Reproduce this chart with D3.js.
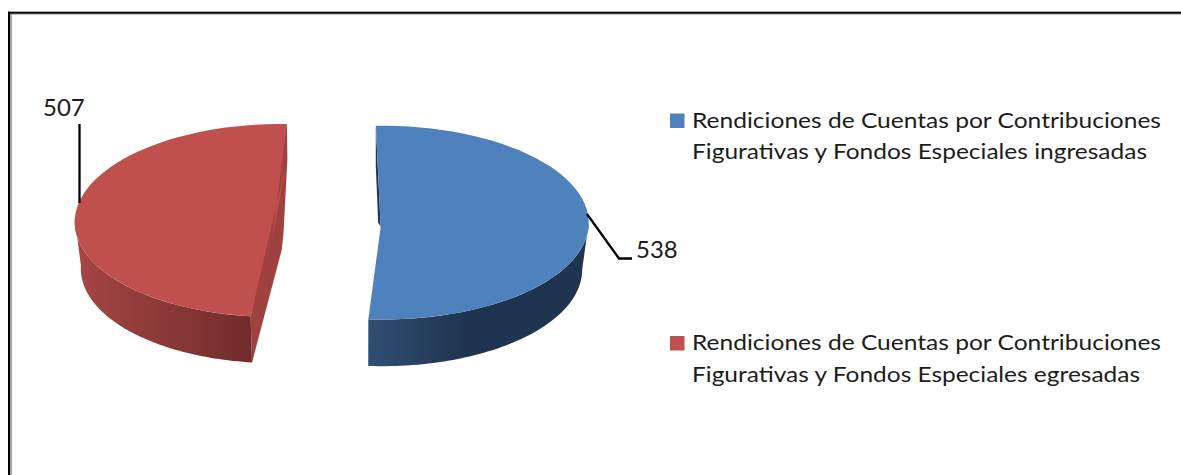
<!DOCTYPE html>
<html>
<head>
<meta charset="utf-8">
<script src="https://cdn.jsdelivr.net/npm/d3@7"></script>
<style>
html,body{margin:0;padding:0;background:#fff;overflow:hidden}
svg{display:block}
text{font-family:Lato,"Open Sans",sans-serif;fill:#1c1c1c}
</style>
</head>
<body>
<svg id="c" width="1181" height="475"></svg>
<script>
const categories = ["ingresadas", "egresadas"];
const values = [538, 507];
const labelLines = [
  ["Rendiciones de Cuentas por Contribuciones", "Figurativas y Fondos Especiales ingresadas"],
  ["Rendiciones de Cuentas por Contribuciones", "Figurativas y Fondos Especiales egresadas"]
];
const labelWidths = [[469,455],[469,448]];
const colors = ["#4F81BD", "#C0504D"];
const deg = Math.PI / 180;

const svg = d3.select("#c");
const defs = svg.append("defs");

// frame
svg.append("rect").attr("x",10).attr("y",13.5).attr("width",1171).attr("height",1.2).attr("fill","#a8a8a8");
svg.append("rect").attr("x",10.5).attr("y",13.5).attr("width",1.6).attr("height",462).attr("fill","#a8a8a8");
svg.append("rect").attr("x",8).attr("y",11.7).attr("width",1173).attr("height",2).attr("fill","#000");
svg.append("rect").attr("x",8).attr("y",11.7).attr("width",2.2).attr("height",464).attr("fill","#000");

const pie = d3.pie().sort(null).startAngle(-1.5*deg).endAngle(358.5*deg);
const arcs = pie(values);

// projected discs of the exploded 3D pie
const shapes = [
  { top:{cx:381.7,cy:222.6,a:207,b:-0.5,c:0,d:96.9}, bot:{cx:381.2,cy:269.3,a:201,b:-0.5,c:0,d:96.9},
    apex:[[380.7,226.7]], wallFrom:90*deg, wallTo:null,
    grad:["#304E73","#1F344E"], gx:[368,470], back:"#1F344E" },
  { top:{cx:278.2,cy:220.4,a:203,b:14,c:5,d:96.4}, bot:{cx:278.2,cy:267,a:197,b:13,c:5,d:96},
    apex:[[272,240],[287,160]], wallFrom:null, wallTo:268*deg,
    grad:["#A54644","#702C2B"], gx:[75,252], back:"#9E413F" }
];
const pt = (e,t) => [e.cx + e.a*Math.sin(t) + e.b*Math.cos(t), e.cy + e.c*Math.sin(t) - e.d*Math.cos(t)];
const sample = (e,t0,t1) => d3.range(0,61).map(i => pt(e, t0 + (t1-t0)*i/60));
const line = d3.line();

arcs.forEach((p,i) => {
  const s = shapes[i];
  const g = svg.append("g");
  const t0 = p.startAngle, t1 = p.endAngle;
  const topS = pt(s.top,t0), topE = pt(s.top,t1), botS = pt(s.bot,t0);
  if (i === 0) {
    const ap = s.apex[0];
    g.append("path").attr("fill",s.back)
      .attr("d", line([topS,[topS[0],topS[1]+40],[ap[0]-2.5,ap[1]-4],ap])+"Z");
  } else {
    g.append("path").attr("fill",s.back)
      .attr("d", line([topE,[topE[0]+0.5,topE[1]+36],[283.5,topE[1]+109],[281.7,topE[1]+126],botS,topS])+"Z");
  }
  const id = "wall"+i;
  const lg = defs.append("linearGradient").attr("id",id).attr("gradientUnits","userSpaceOnUse")
    .attr("x1",s.gx[0]).attr("x2",s.gx[1]).attr("y1",0).attr("y2",0);
  lg.append("stop").attr("offset",0).attr("stop-color",s.grad[0]);
  lg.append("stop").attr("offset",1).attr("stop-color",s.grad[1]);
  const wa = s.wallFrom!==null ? s.wallFrom : t0;
  const wb = s.wallTo!==null ? s.wallTo : t1;
  g.append("path").attr("fill","url(#"+id+")")
    .attr("d", line(sample(s.top,wa,wb).concat(sample(s.bot,wb,wa)))+"Z");
  g.append("path").attr("fill",colors[i])
    .attr("d", line(sample(s.top,t0,t1).concat(s.apex))+"Z");
});

// leader lines and value labels
const lead = [ [[587,214],[619,258.5],[632,258.5]], [[79.5,203],[79.5,124]] ];
const valPos = [[636,258],[43,116]];
arcs.forEach((p,i)=>{
  svg.append("path").attr("fill","none").attr("stroke","#000").attr("stroke-width",2.3).attr("d",line(lead[i]));
  svg.append("text").attr("x",valPos[i][0]).attr("y",valPos[i][1]).attr("font-size",24).text(p.data);
});

// legend
const legendY = [127.5, 350];
categories.forEach((c,i)=>{
  const y = legendY[i];
  svg.append("rect").attr("x",670).attr("y",y-14).attr("width",14.5).attr("height",14.5).attr("fill",colors[i]);
  labelLines[i].forEach((t,j)=>{
    svg.append("text").attr("x",692).attr("y",y+j*31.6).attr("font-size",21.5)
      .attr("textLength",labelWidths[i][j]).attr("lengthAdjust","spacingAndGlyphs").text(t);
  });
});
</script>
</body>
</html>
